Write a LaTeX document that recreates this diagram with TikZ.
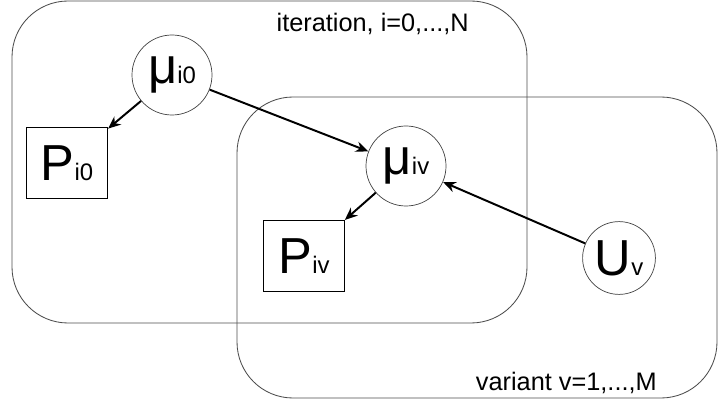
\documentclass[tikz,border=0pt]{standalone}
\usepackage{fontspec}
\setmainfont{Liberation Sans}
\usetikzlibrary{positioning,arrows.meta}

% big letter with small index on the same baseline
\newcommand{\varname}[2]{{\fontsize{36}{36}\selectfont #1}{\fontsize{17}{17}\selectfont #2}}

\tikzset{
  plate/.style = {draw=black!70, line width=0.6pt, rounded corners=1.4cm},
  platelabel/.style = {anchor=base east, inner sep=0pt, font=\fontsize{18}{18}\selectfont},
  latent/.style = {circle, draw=black!75, line width=0.5pt, minimum size=2cm, inner sep=0pt},
  observed/.style = {rectangle, draw=black, line width=0.9pt, minimum width=2.02cm, minimum height=1.77cm, inner sep=0pt},
  edge/.style = {-{Stealth[length=9pt,width=7.5pt]}, line width=1.4pt}
}

\begin{document}
\begin{tikzpicture}[x=0.025cm, y=-0.025cm]
  \useasboundingbox (0,0) rectangle (720,405);

  % Plates
  \draw[plate] (12,1) rectangle (527,323);
  \draw[plate] (237,97) rectangle (717,398);
  \node[platelabel] (iterlabel) at (469,32) {iteration, i=0,...,N};
  \node[platelabel] (varlabel) at (657,390) {variant v=1,...,M};

  % Nodes
  \node[latent] (mu0) at (172,75) {\varname{μ}{i0}};
  \node[latent] (muv) at (406,166) {\varname{μ}{iv}};
  \node[latent, minimum size=1.82cm] (U) at (619,258) {\varname{U}{v}};
  \node[observed] (P0) at (67,163) {\varname{P}{i0}};
  \node[observed] (Pv) at (304,256) {\varname{P}{iv}};

  % Edges
  \draw[edge] (mu0) -- (P0);
  \draw[edge] (mu0) -- (muv);
  \draw[edge] (muv) -- (Pv);
  \draw[edge] (U) -- (muv);
\end{tikzpicture}
\end{document}
